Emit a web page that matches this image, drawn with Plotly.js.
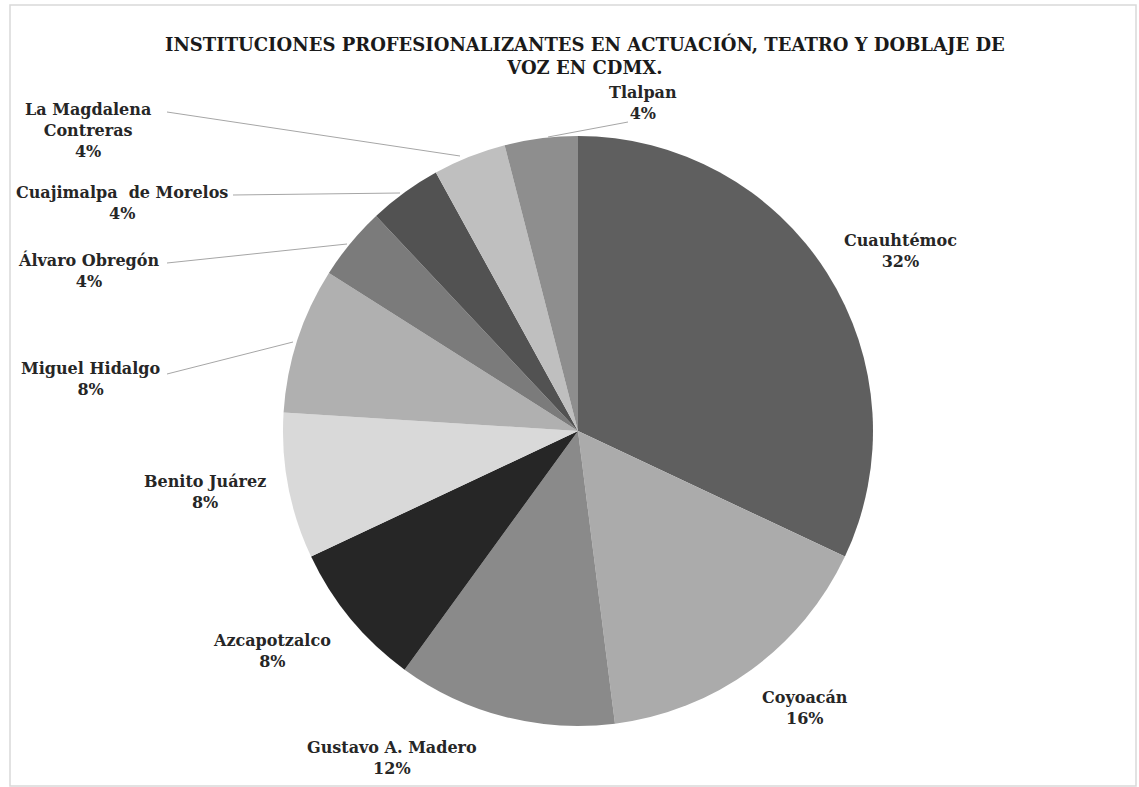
<!DOCTYPE html>
<html>
<head>
<meta charset="utf-8">
<script src="https://cdn.plot.ly/plotly-3.0.1.min.js"></script>
<style>html,body{margin:0;padding:0;background:#fff;}#chart{width:1139px;height:787px;}</style>
</head>
<body>
<div id="chart"></div>
<script>
// Data
var categories = ["Cuauhtémoc","Coyoacán","Gustavo A. Madero","Azcapotzalco","Benito Juárez","Miguel Hidalgo","Álvaro Obregón","Cuajimalpa  de Morelos","La Magdalena<br>Contreras","Tlalpan"];
var values = [32, 16, 12, 8, 8, 8, 4, 4, 4, 4];
var sliceColors = ["#5f5f5f","#ababab","#8a8a8a","#262626","#d9d9d9","#b0b0b0","#7b7b7b","#525252","#bfbfbf","#8e8e8e"];
var titleText = "INSTITUCIONES PROFESIONALIZANTES EN ACTUACIÓN, TEATRO Y DOBLAJE DE<br>VOZ EN CDMX.";

// Layout helpers (pixel -> paper)
var W = 1139, H = 787;
function px(x){ return x / W; }
function py(y){ return 1 - y / H; }

// label centres (pixels) and leader lines (pixels) — layout only
var labelPos = [[900,251],[805,708],[392,758],[272,651],[205,492],[90,379],[88,270],[122,203],[88,131],[643,103]];
var leaders = [null,null,null,null,null,[[167,374],[293,342]],[[167,263],[347,244]],[[233,195],[400,193]],[[167,112],[460,156]],[[628,122],[548,137]]];

var FONT = "DejaVu Serif";
var total = values.reduce(function(a,b){return a+b;},0);
var annFont = {family:FONT, size:16, color:"#262626"};
var annotations = categories.map(function(c,i){
  return {
    xref:"paper", yref:"paper",
    x: px(labelPos[i][0]), y: py(labelPos[i][1]),
    xanchor:"center", yanchor:"middle",
    text: "<b>" + c + "<br>" + Math.round(values[i]/total*100) + "%</b>",
    showarrow:false, align:"center",
    font: annFont
  };
});
annotations.push({
  xref:"paper", yref:"paper", x: px(585), y: py(56), xanchor:"center", yanchor:"middle",
  text:"<b>"+titleText+"</b>", showarrow:false, align:"center",
  font:{family:FONT, size:18, color:"#1a1a1a"}
});

var shapes = [];
leaders.forEach(function(l){
  if(!l) return;
  shapes.push({type:"line", xref:"paper", yref:"paper", x0:px(l[0][0]), y0:py(l[0][1]), x1:px(l[1][0]), y1:py(l[1][1]), line:{color:"#a6a6a6", width:1}});
});
shapes.push({type:"rect", xref:"paper", yref:"paper", x0:px(10), y0:py(5), x1:px(1136), y1:py(786), line:{color:"#d9d9d9", width:1.5}, layer:"below"});

var cx = 578, cy = 431, r = 295;
var trace = {
  type:"pie",
  labels: categories,
  values: values,
  sort:false,
  direction:"clockwise",
  rotation:0,
  textinfo:"none",
  hoverinfo:"label+percent",
  marker:{colors:sliceColors, line:{width:0}},
  domain:{x:[px(cx-r), px(cx+r)], y:[py(cy+r), py(cy-r)]},
  showlegend:false
};

var layout = {
  width:W, height:H,
  margin:{l:0,r:0,t:0,b:0},
  paper_bgcolor:"#ffffff",
  font:{family:FONT},
  showlegend:false,
  annotations: annotations,
  shapes: shapes
};
Plotly.newPlot("chart",[trace],layout,{displayModeBar:false, staticPlot:true});
</script>
</body>
</html>
